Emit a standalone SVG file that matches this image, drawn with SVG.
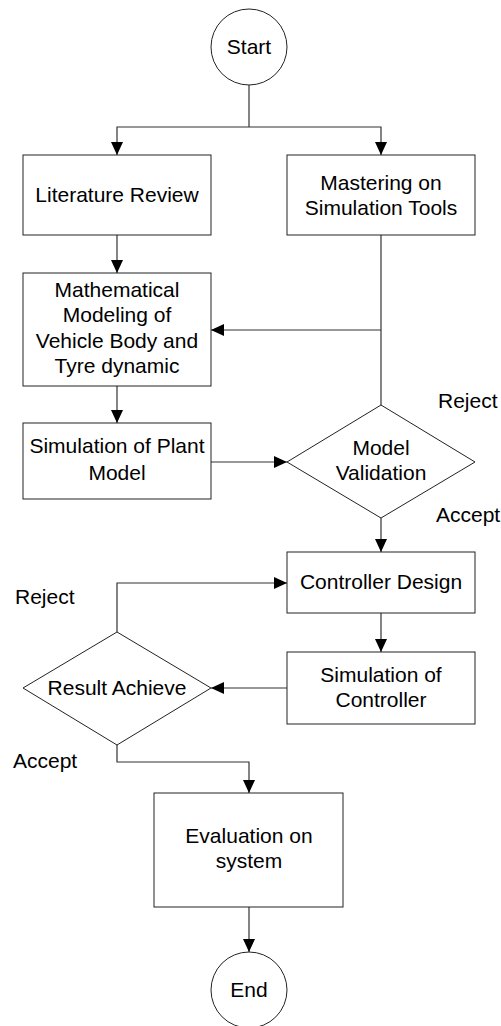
<svg xmlns="http://www.w3.org/2000/svg" width="501" height="1026" viewBox="0 0 501 1026">
<defs>
<marker id="arr" markerUnits="userSpaceOnUse" markerWidth="14" markerHeight="14" viewBox="0 0 14 14" refX="13" refY="7" orient="auto">
<path d="M0,1 L13,7 L0,13 Z" fill="#000"/>
</marker>
</defs>
<style>
.shape{fill:#fff;stroke:#222;stroke-width:1}
.conn{fill:none;stroke:#333;stroke-width:1.2;marker-end:url(#arr)}
.line{fill:none;stroke:#333;stroke-width:1.2}
text{font-family:"Liberation Sans",Arial,sans-serif;font-size:21px;fill:#000;text-anchor:middle}
.lbl{text-anchor:start}
</style>
<rect width="501" height="1026" fill="#fff"/>
<g id="connectors">
<path class="line" d="M249,85 V127"/>
<path class="conn" d="M249,127 H117 V155"/>
<path class="conn" d="M249,127 H381 V155"/>
<path class="conn" d="M117,235 V273"/>
<path class="line" d="M381,235 V405"/>
<path class="conn" d="M381,330 H211"/>
<path class="conn" d="M117,386 V423"/>
<path class="conn" d="M211,462 H287"/>
<path class="conn" d="M381,518 V552"/>
<path class="conn" d="M381,613 V652"/>
<path class="conn" d="M287,688 H211"/>
<path class="conn" d="M117,632 V583 H287"/>
<path class="conn" d="M117,745 V762 H249 V793"/>
<path class="conn" d="M249,907 V952"/>
</g>
<g id="start"><circle class="shape" cx="249" cy="47" r="38"/><text x="249" y="54">Start</text></g>
<g id="literature"><rect class="shape" x="23" y="155" width="188" height="80"/><text x="117" y="202">Literature Review</text></g>
<g id="mastering"><rect class="shape" x="287" y="155" width="188" height="80"/><text x="381" y="190">Mastering on</text><text x="381" y="215">Simulation Tools</text></g>
<g id="math"><rect class="shape" x="23" y="273" width="188" height="113"/><text x="117" y="297">Mathematical</text><text x="117" y="322">Modeling of</text><text x="117" y="348">Vehicle Body and</text><text x="117" y="373">Tyre dynamic</text></g>
<g id="simplant"><rect class="shape" x="23" y="423" width="188" height="76"/><text x="117" y="453">Simulation of Plant</text><text x="117" y="480">Model</text></g>
<g id="validation"><polygon class="shape" points="381,405 475,462 381,518 287,462"/><text x="381" y="455">Model</text><text x="381" y="480">Validation</text></g>
<g id="controller"><rect class="shape" x="287" y="552" width="188" height="61"/><text x="381" y="589">Controller Design</text></g>
<g id="simcontroller"><rect class="shape" x="287" y="652" width="188" height="72"/><text x="381" y="682">Simulation of</text><text x="381" y="707">Controller</text></g>
<g id="result"><polygon class="shape" points="117,632 211,688 117,745 23,688"/><text x="117" y="695">Result Achieve</text></g>
<g id="evaluation"><rect class="shape" x="154" y="793" width="189" height="114"/><text x="249" y="843">Evaluation on</text><text x="249" y="868">system</text></g>
<g id="end"><circle class="shape" cx="249" cy="990" r="38"/><text x="249" y="997">End</text></g>
<g id="labels">
<text class="lbl" x="438" y="408">Reject</text>
<text class="lbl" x="436" y="522">Accept</text>
<text class="lbl" x="15" y="604">Reject</text>
<text class="lbl" x="13" y="768">Accept</text>
</g>
</svg>
